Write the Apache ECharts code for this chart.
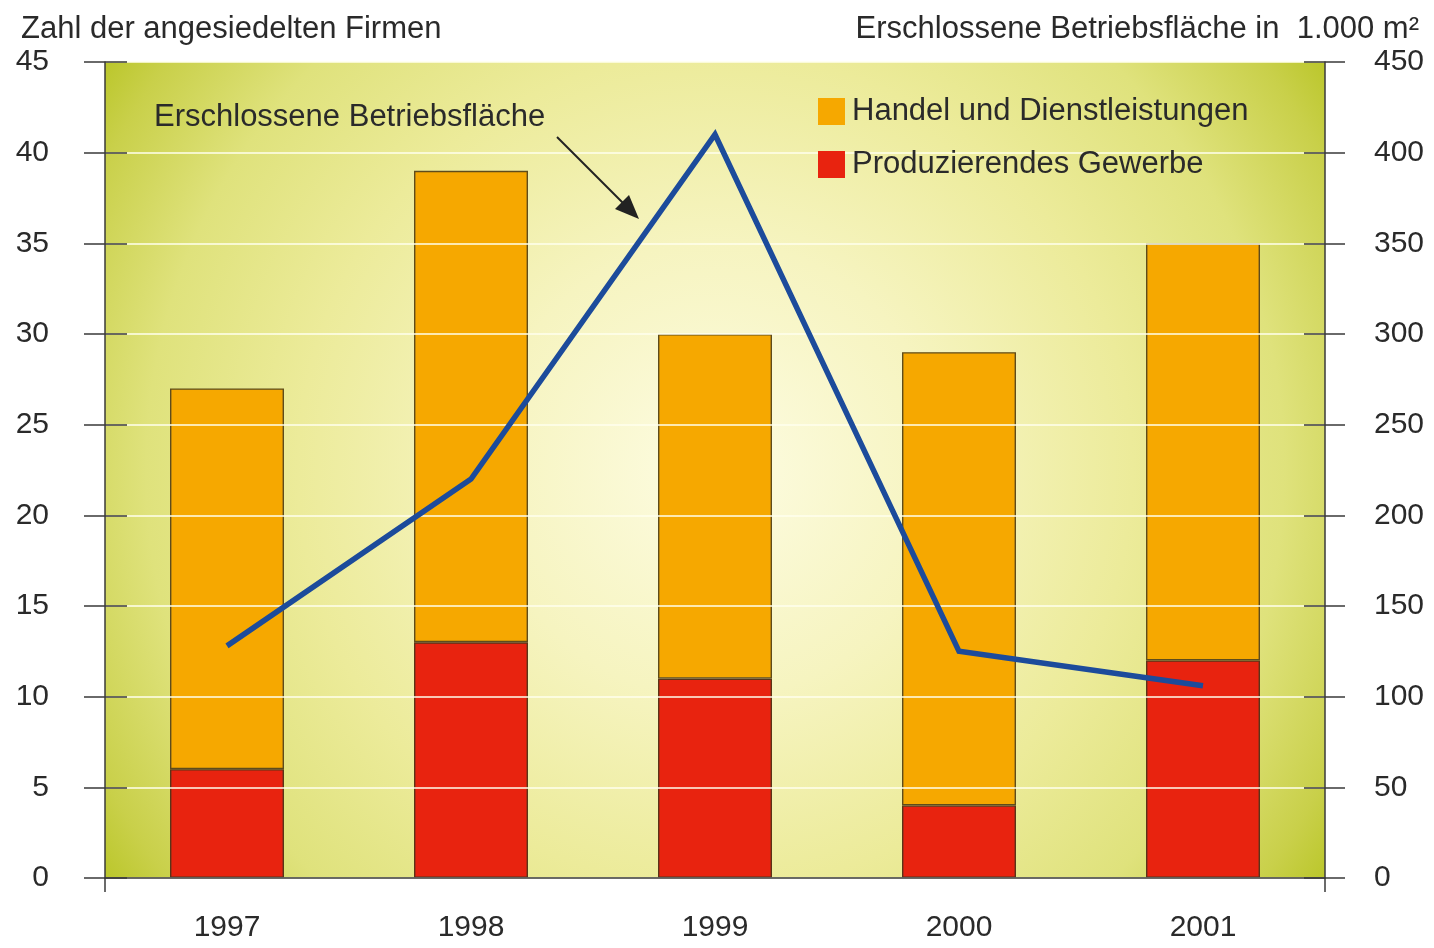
<!DOCTYPE html>
<html>
<head>
<meta charset="utf-8">
<script src="https://cdn.jsdelivr.net/npm/echarts@6/dist/echarts.min.js"></script>
<style>
html,body{margin:0;padding:0;background:#fff;}
#c{width:1434px;height:948px;}
</style>
</head>
<body>
<div id="c"></div>
<script>
const years = ['1997', '1998', '1999', '2000', '2001'];
const produzierend = [6, 13, 11, 4, 12];
const handel = [21, 26, 19, 25, 23];
const flaeche = [128, 220, 410, 125, 106];
const leftTicks = { min: 0, max: 45, interval: 5 };
const rightTicks = { min: 0, max: 450, interval: 50 };

const FONT = '"Liberation Sans", Arial, sans-serif';
const TXT = '#2a2a2a';
const AX = '#3a3a3a';

const chart = echarts.init(document.getElementById('c'));

const bg = {
  type: 'radial', x: 0.5, y: 0.5, r: 0.93,
  colorStops: [
    { offset: 0, color: '#fdfce2' },
    { offset: 0.3, color: '#f6f4c0' },
    { offset: 0.55, color: '#eceb9a' },
    { offset: 0.75, color: '#dfe27c' },
    { offset: 0.9, color: '#c9d04a' },
    { offset: 1, color: '#b4c21c' }
  ]
};

function yAx(pos, t, opts) {
  return Object.assign({
    type: 'value', position: pos, min: t.min, max: t.max, interval: t.interval,
    z: 3,
    axisLine: { show: false },
    axisTick: { show: false },
    axisLabel: { show: false },
    splitLine: { show: false }
  }, opts);
}

chart.setOption({
  animation: false,
  textStyle: { fontFamily: FONT },
  title: [
    { text: 'Zahl der angesiedelten Firmen', left: 16, top: 9,
      textStyle: { fontSize: 31, fontWeight: 'normal', color: TXT, fontFamily: FONT } },
    { text: 'Erschlossene Betriebsfläche in  1.000 m²', right: 10, top: 9,
      textStyle: { fontSize: 31, fontWeight: 'normal', color: TXT, fontFamily: FONT } }
  ],
  legend: {
    data: ['Handel und Dienstleistungen', 'Produzierendes Gewerbe'],
    orient: 'vertical', left: 813, top: 91, 
    icon: 'rect', itemWidth: 27, itemHeight: 27, itemGap: 22,
    itemStyle: { borderWidth: 0 },
    textStyle: { fontSize: 31, color: TXT, fontFamily: FONT, padding: [0, 0, 0, 2] }
  },
  grid: {
    left: 105, right: 109, top: 62, bottom: 70,
    show: true, borderWidth: 0, backgroundColor: bg
  },
  xAxis: {
    type: 'category', data: years,
    axisLine: { lineStyle: { color: AX, width: 1.5 } },
    axisTick: { show: false },
    axisLabel: { fontSize: 30, color: TXT, margin: 35, fontFamily: FONT },
    z: 3
  },
  yAxis: [
    yAx('left', leftTicks, {
      axisLine: { show: true, lineStyle: { color: AX, width: 1.5 } },
      axisTick: { show: true, length: 21, lineStyle: { color: AX, width: 1.5 } },
      axisLabel: { show: true, fontSize: 30, color: TXT, margin: 56, fontFamily: FONT },
      splitLine: { show: true, lineStyle: { color: 'rgba(255,255,238,0.75)', width: 2 } }
    }),
    yAx('right', rightTicks, {
      axisLine: { show: true, lineStyle: { color: AX, width: 1.5 } },
      axisTick: { show: true, length: 20, lineStyle: { color: AX, width: 1.5 } },
      axisLabel: { show: true, fontSize: 30, color: TXT, margin: 49, fontFamily: FONT }
    }),
    yAx('left', leftTicks, {
      axisTick: { show: true, inside: true, length: 22, lineStyle: { color: AX, width: 1.5 } }
    }),
    yAx('right', rightTicks, {
      axisTick: { show: true, inside: true, length: 21, lineStyle: { color: AX, width: 1.5 } }
    })
  ],
  series: [
    {
      name: 'Produzierendes Gewerbe', type: 'bar', stack: 'f', data: produzierend,
      barWidth: 114, z: 2,
      itemStyle: { color: '#e8230f', borderColor: '#5a3418', borderWidth: 1.4 }
    },
    {
      name: 'Handel und Dienstleistungen', type: 'bar', stack: 'f', data: handel,
      barWidth: 114, z: 2,
      itemStyle: { color: '#f6a800', borderColor: '#5e4c1c', borderWidth: 1.4 }
    },
    {
      name: 'Erschlossene Betriebsfläche', type: 'line', yAxisIndex: 1, data: flaeche,
      symbol: 'none', z: 6,
      lineStyle: { color: '#1c4b9b', width: 5.5, join: 'miter' }
    }
  ],
  graphic: [
    { type: 'text', left: 154, top: 102, z: 10,
      style: { text: 'Erschlossene Betriebsfläche', fontSize: 31, fill: TXT, fontFamily: FONT } },
    { type: 'line', z: 10, shape: { x1: 557, y1: 137, x2: 626, y2: 206 },
      style: { stroke: '#222', lineWidth: 2 } },
    { type: 'polygon', z: 10, shape: { points: [[639, 219], [615, 209], [629, 195]] },
      style: { fill: '#222' } },
    { type: 'line', z: 10, shape: { x1: 105, y1: 878, x2: 105, y2: 892 },
      style: { stroke: AX, lineWidth: 1.5 } },
    { type: 'line', z: 10, shape: { x1: 1325, y1: 878, x2: 1325, y2: 892 },
      style: { stroke: AX, lineWidth: 1.5 } }
  ]
});
</script>
</body>
</html>
